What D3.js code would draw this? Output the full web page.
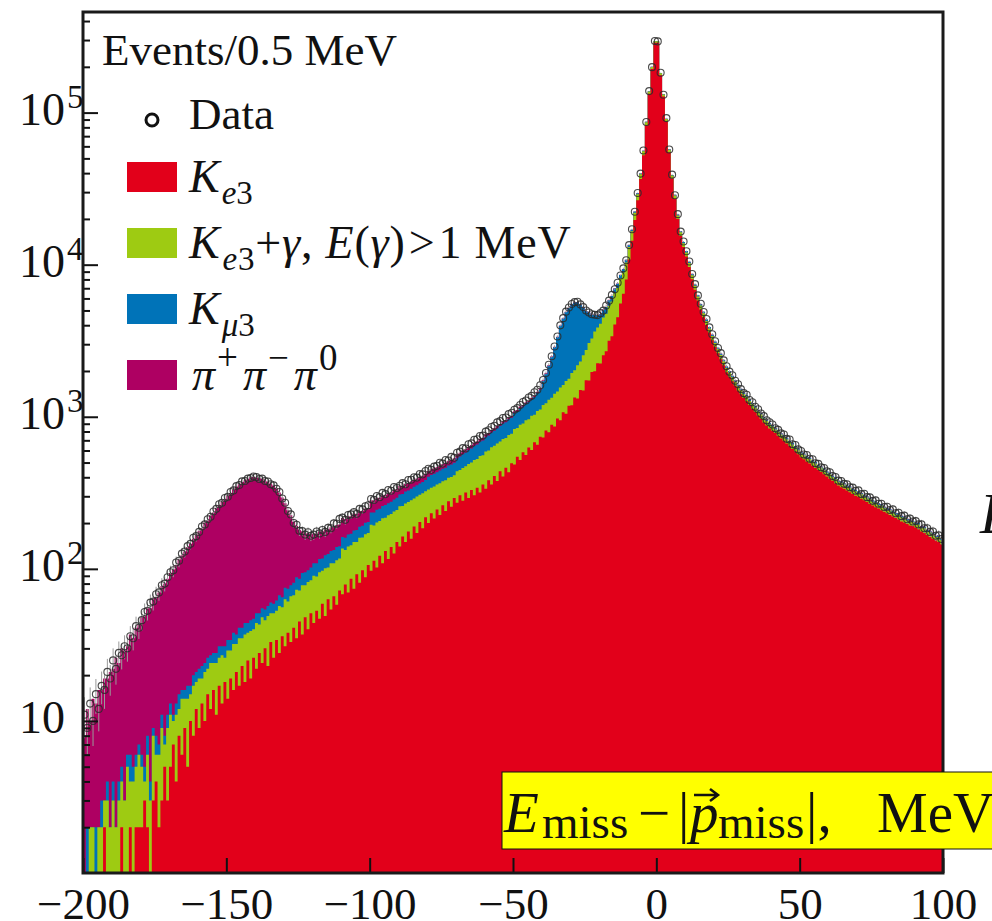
<!DOCTYPE html>
<html>
<head>
<meta charset="utf-8">
<script src="https://cdnjs.cloudflare.com/ajax/libs/d3/7.8.5/d3.min.js"></script>
<style>
  html, body { margin: 0; padding: 0; background: #fff; }
  svg { display: block; }
  text { font-family: "Liberation Serif", "DejaVu Serif", serif; fill: #111; }
</style>
</head>
<body>
<div id="chart"></div>
<script>
// E_miss - |p_miss| histogram, 1 MeV bins from -200 to 100, counts per 0.5 MeV
const binStart = -200;
const binWidth = 1;

const ke3 = [
  0, 1, 0, 1, 1, 0, 1, 2, 0, 1,
  1, 1, 0, 2, 1, 1, 2, 1, 2, 2,
  2, 3, 2, 1, 3, 4, 2, 3, 5, 3,
  5, 7, 4, 8, 6, 9, 5, 10, 8, 12,
  9, 13, 10, 15, 12, 16, 11, 17, 13, 18,
  14, 19, 16, 21, 17, 23, 18, 25, 19, 26,
  22, 28, 24, 30, 23, 33, 26, 34, 28, 36,
  31, 38, 33, 41, 35, 45, 37, 48, 40, 51,
  44, 53, 47, 59, 49, 63, 54, 66, 58, 72,
  68, 79, 70, 86, 74, 92, 81, 98, 88, 106,
  97, 113, 102, 122, 109, 131, 116, 139, 126, 150,
  140, 163, 150, 176, 158, 190, 172, 203, 185, 218,
  200, 232, 214, 246, 226, 262, 240, 278, 256, 292,
  272, 305, 280, 318, 292, 330, 305, 342, 318, 358,
  336, 382, 358, 408, 378, 438, 405, 462, 432, 494,
  486, 545, 520, 585, 560, 628, 605, 680, 655, 738,
  730, 812, 790, 885, 862, 975, 950, 1070, 1045, 1180,
  1190, 1340, 1320, 1500, 1490, 1740, 1730, 1970, 1990, 2250,
  2240, 2540, 2700, 3160, 3380, 4040, 4520, 5560, 6440, 7980,
  10800, 14360, 19670, 26560, 36550, 52530, 82680, 132930, 193880, 287780,
  288280, 176370, 127430, 87710, 54870, 36820, 27060, 19990, 15410, 13050,
  11340, 9650, 8020, 6830, 5810, 5070, 4510, 4010, 3580, 3190,
  2871, 2620, 2389, 2179, 1964, 1832, 1710, 1597, 1491, 1406,
  1327, 1267, 1197, 1129, 1079, 1018, 972, 918, 877, 837,
  808, 781, 746, 720, 696, 666, 643, 614, 593, 567,
  541, 525, 508, 492, 477, 460, 446, 433, 419, 405,
  391, 379, 365, 353, 344, 336, 327, 319, 311, 302,
  298, 289, 283, 275, 267, 261, 254, 249, 243, 237,
  232, 226, 221, 216, 211, 205, 202, 197, 193, 191,
  187, 182, 176, 172, 167, 162, 158, 154, 150, 145
];

const ke3Gamma = [
  1, 0, 2, 1, 0, 2, 1, 1, 3, 1,
  2, 1, 3, 2, 2, 4, 2, 3, 3, 4,
  3, 1, 4, 2, 5, 2, 4, 6, 2, 6,
  6, 3, 7, 4, 8, 5, 9, 5, 9, 6,
  10, 6, 11, 7, 12, 8, 13, 9, 14, 8,
  15, 10, 16, 11, 18, 12, 19, 13, 20, 14,
  22, 15, 24, 16, 26, 18, 25, 19, 29, 20,
  32, 23, 33, 26, 38, 27, 41, 30, 42, 33,
  46, 36, 48, 38, 52, 39, 55, 43, 56, 45,
  68, 54, 70, 57, 76, 58, 79, 63, 81, 66,
  98, 80, 100, 84, 106, 86, 109, 90, 112, 94,
  118, 96, 119, 99, 124, 100, 127, 104, 129, 106,
  133, 110, 134, 112, 140, 114, 143, 119, 145, 121,
  166, 142, 181, 155, 198, 170, 215, 186, 234, 200,
  254, 218, 272, 236, 290, 250, 310, 264, 328, 280,
  345, 298, 366, 318, 388, 336, 410, 352, 436, 380,
  465, 415, 505, 450, 556, 490, 610, 545, 672, 600,
  750, 680, 860, 810, 1050, 1010, 1330, 1300, 1640, 1620,
  1850, 1950, 2050, 2200, 2350, 2450, 2500, 2550, 2450, 2350,
  2250, 2200, 2300, 2500, 2800, 3200, 3800, 4500, 5500, 6500,
  6000, 5000, 4000, 3000, 2200, 1700, 1400, 1100, 900, 780,
  700, 600, 500, 430, 370, 320, 290, 260, 230, 205,
  188, 171, 156, 142, 128, 120, 112, 104, 97, 92,
  87, 92, 74, 79, 70, 63, 68, 57, 61, 52,
  56, 48, 53, 44, 47, 45, 38, 44, 36, 40,
  33, 38, 30, 35, 29, 33, 26, 30, 29, 24,
  28, 23, 26, 21, 24, 23, 19, 23, 18, 22,
  17, 21, 16, 19, 20, 15, 18, 14, 18, 15,
  13, 17, 14, 12, 16, 13, 15, 11, 14, 12,
  10, 14, 11, 13, 9, 12, 11, 8, 12, 9
];

const kmu3 = [
  0, 1, 0, 0, 1, 0, 1, 0, 1, 0,
  1, 0, 1, 1, 0, 1, 2, 1, 1, 1,
  1, 1, 2, 1, 1, 2, 1, 2, 1, 2,
  2, 1, 2, 3, 2, 2, 3, 2, 3, 3,
  3, 4, 3, 4, 3, 4, 4, 5, 4, 5,
  5, 5, 6, 5, 6, 6, 7, 6, 7, 7,
  7, 8, 7, 8, 8, 9, 8, 9, 10, 9,
  12, 13, 12, 14, 15, 14, 16, 17, 16, 18,
  19, 20, 21, 20, 22, 23, 22, 24, 25, 24,
  26, 27, 28, 27, 29, 30, 29, 31, 32, 31,
  40, 42, 43, 42, 44, 46, 45, 47, 48, 49,
  50, 52, 53, 52, 54, 56, 55, 57, 58, 60,
  70, 72, 74, 74, 77, 79, 79, 82, 84, 86,
  95, 100, 105, 109, 114, 119, 124, 130, 135, 140,
  147, 153, 159, 166, 173, 180, 187, 194, 202, 210,
  230, 240, 255, 265, 275, 285, 295, 315, 345, 390,
  524, 686, 874, 1138, 1445, 1874, 2402, 2808, 3159, 3414,
  3543, 3627, 3488, 3134, 2697, 2191, 1772, 1392, 1057, 757,
  620, 560, 520, 500, 490, 480, 470, 460, 450, 440,
  430, 420, 410, 420, 430, 450, 500, 550, 600, 700,
  700, 620, 560, 480, 420, 370, 330, 300, 280, 260,
  250, 215, 180, 150, 128, 110, 98, 88, 78, 70,
  66, 54, 55, 44, 46, 38, 39, 33, 34, 29,
  31, 27, 28, 22, 27, 20, 23, 20, 19, 18,
  19, 16, 17, 15, 14, 16, 12, 14, 13, 11,
  13, 10, 12, 11, 9, 11, 10, 8, 10, 9,
  9, 8, 9, 6, 8, 7, 8, 6, 7, 6,
  7, 5, 6, 6, 5, 7, 4, 6, 5, 4,
  6, 4, 5, 5, 4, 5, 3, 5, 4, 3,
  4, 5, 3, 4, 4, 3, 4, 2, 4, 3
];

const pi3 = [
  7, 10, 8, 12, 11, 14, 13, 16, 15, 19,
  18, 24, 20, 25, 26, 25, 31, 30, 35, 36,
  42, 44, 47, 51, 55, 57, 63, 66, 72, 75,
  81, 88, 93, 100, 107, 114, 122, 129, 138, 145,
  156, 161, 178, 182, 198, 207, 223, 232, 245, 256,
  269, 281, 295, 311, 319, 332, 338, 344, 354, 355,
  348, 343, 336, 326, 317, 303, 294, 277, 251, 229,
  195, 169, 147, 123, 104, 95, 83, 75, 74, 67,
  62, 61, 60, 59, 58, 57, 57, 56, 55, 55,
  54, 53, 53, 52, 51, 50, 50, 49, 48, 48,
  47, 47, 46, 45, 45, 44, 44, 43, 43, 42,
  42, 41, 41, 40, 40, 39, 39, 38, 38, 38,
  37, 37, 36, 36, 36, 35, 35, 35, 34, 34,
  33, 33, 33, 32, 32, 32, 31, 31, 31, 30,
  30, 30, 29, 29, 29, 28, 28, 28, 27, 27,
  27, 26, 26, 26, 25, 25, 25, 24, 24, 24,
  24, 24, 23, 23, 23, 23, 22, 22, 22, 22,
  22, 22, 21, 21, 21, 21, 20, 20, 20, 20,
  20, 20, 19, 19, 19, 19, 18, 18, 18, 18,
  18, 17, 17, 17, 16, 16, 16, 16, 16, 16,
  16, 15, 14, 12, 11, 10, 9, 8, 7, 7,
  7, 6, 6, 5, 5, 5, 4, 4, 4, 4,
  4, 3, 3, 3, 3, 3, 3, 2, 2, 2,
  2, 2, 2, 2, 2, 2, 2, 2, 2, 2,
  2, 2, 2, 2, 2, 1, 1, 1, 1, 1,
  1, 1, 1, 1, 1, 1, 1, 1, 1, 1,
  1, 1, 1, 1, 1, 1, 1, 1, 1, 1,
  1, 1, 1, 1, 1, 1, 1, 1, 1, 1,
  1, 1, 1, 1, 1, 1, 1, 1, 1, 1,
  1, 1, 1, 1, 1, 1, 1, 1, 1, 1
];

const dataCounts = [
  11, 9, 13, 10, 15, 12, 17, 16, 21, 19,
  25, 22, 28, 27, 31, 30, 36, 35, 42, 41,
  46, 52, 53, 60, 61, 68, 70, 78, 80, 88,
  95, 98, 110, 113, 126, 130, 141, 146, 160, 164,
  175, 190, 196, 212, 220, 238, 248, 266, 272, 292,
  298, 320, 328, 350, 356, 376, 378, 392, 396, 405,
  401, 390, 392, 378, 375, 360, 354, 336, 320, 290,
  272, 240, 228, 200, 195, 178, 177, 168, 174, 165,
  168, 176, 171, 180, 175, 186, 185, 199, 198, 213,
  217, 210, 226, 228, 236, 230, 248, 246, 258, 262,
  288, 284, 301, 296, 316, 310, 330, 326, 345, 340,
  352, 366, 360, 384, 385, 400, 398, 420, 418, 440,
  455, 448, 470, 476, 498, 492, 520, 516, 545, 538,
  580, 590, 622, 618, 660, 668, 706, 712, 748, 752,
  798, 815, 856, 872, 918, 936, 982, 990, 1040, 1062,
  1112, 1140, 1196, 1250, 1280, 1340, 1372, 1450, 1505, 1610,
  1745, 1940, 2200, 2500, 2895, 3370, 3990, 4450, 4910, 5230,
  5510, 5670, 5700, 5480, 5260, 5000, 4850, 4720, 4690, 4660,
  4800, 4990, 5390, 5800, 6330, 6900, 7610, 8490, 9460, 10690,
  13450, 17100, 22300, 29600, 39700, 56400, 86800, 138500, 199000, 296000,
  294000, 183000, 131000, 92000, 57200, 39100, 28600, 21500, 16500, 14200,
  12250, 10500, 8680, 7450, 6280, 5530, 4880, 4390, 3870, 3490,
  3140, 2830, 2620, 2350, 2150, 1980, 1875, 1725, 1635, 1520,
  1430, 1395, 1290, 1245, 1165, 1120, 1050, 1010, 948, 920,
  890, 840, 820, 778, 765, 716, 708, 660, 652, 610,
  595, 565, 560, 530, 525, 495, 490, 465, 460, 438,
  432, 408, 402, 380, 378, 362, 360, 344, 342, 326,
  328, 310, 312, 296, 295, 280, 282, 268, 268, 255,
  256, 244, 246, 232, 234, 222, 224, 212, 214, 205,
  206, 196, 196, 185, 185, 175, 176, 165, 166, 157
];

const xTicks = [-200, -150, -100, -50, 0, 50, 100];
const yMajorTicks = [10, 100, 1000, 10000, 100000];
const yExponents = [1, 2, 3, 4, 5];

const layers = [
  { key: 'ke3', color: '#e2001a' },
  { key: 'ke3Gamma', color: '#9ecb12' },
  { key: 'kmu3', color: '#0073b8' },
  { key: 'pi3', color: '#ae0062' }
];

const width = 992;
const height = 921;
const plot = { left: 83, right: 943, top: 12, bottom: 873 };

const svg = d3.select('#chart').append('svg')
  .attr('width', width)
  .attr('height', height);

const x = d3.scaleLinear().domain([-200, 100]).range([plot.left, plot.right]);
const y = d3.scaleLog().domain([1, 4.587e5]).range([plot.bottom, plot.top]).clamp(true);

const rows = ke3.map((v, i) => ({
  lo: binStart + i * binWidth,
  ke3: v,
  ke3Gamma: ke3Gamma[i],
  kmu3: kmu3[i],
  pi3: pi3[i]
}));
// closing edge for the step curve
rows.push(Object.assign({}, rows[rows.length - 1], { lo: binStart + ke3.length * binWidth }));

const stack = d3.stack().keys(layers.map(l => l.key));
const series = stack(rows);

svg.append('clipPath').attr('id', 'plotClip')
  .append('rect')
  .attr('x', plot.left).attr('y', plot.top)
  .attr('width', plot.right - plot.left).attr('height', plot.bottom - plot.top);

const plotG = svg.append('g').attr('clip-path', 'url(#plotClip)');

// each layer filled from the bottom up to its cumulative top, drawn top layer first
const area = d3.area()
  .curve(d3.curveStepAfter)
  .x(d => x(d.data.lo))
  .y0(plot.bottom)
  .y1(d => y(d[1]));

plotG.selectAll('path.layer')
  .data(series.slice().reverse())
  .enter()
  .append('path')
  .attr('class', 'layer')
  .attr('d', area)
  .attr('fill', d => layers.find(l => l.key === d.key).color)
  .attr('stroke', 'none');

// data points with statistical error bars
const points = dataCounts.map((v, i) => ({ c: binStart + (i + 0.5) * binWidth, v: v }));

plotG.append('g')
  .selectAll('line')
  .data(points)
  .enter()
  .append('line')
  .attr('x1', d => x(d.c))
  .attr('x2', d => x(d.c))
  .attr('y1', d => y(Math.max(d.v - Math.sqrt(d.v), 0.5)))
  .attr('y2', d => y(d.v + Math.sqrt(d.v)))
  .attr('stroke', '#9a9a9a')
  .attr('stroke-width', 1);

plotG.append('g')
  .selectAll('circle')
  .data(points)
  .enter()
  .append('circle')
  .attr('cx', d => x(d.c))
  .attr('cy', d => y(d.v))
  .attr('r', 3.5)
  .attr('fill', 'none')
  .attr('stroke', '#2a2a2a')
  .attr('stroke-opacity', 0.85)
  .attr('stroke-width', 1.1);

// x axis
svg.append('g')
  .attr('transform', `translate(0,${plot.bottom})`)
  .call(d3.axisBottom(x).tickValues(xTicks).tickSizeInner(-15).tickSizeOuter(0).tickPadding(14))
  .call(g => g.select('.domain').remove())
  .call(g => g.selectAll('.tick line').attr('stroke', '#111').attr('stroke-width', 2))
  .call(g => g.selectAll('.tick text')
    .attr('font-size', 45)
    .attr('font-family', '"Liberation Serif", serif')
    .attr('fill', '#111'));

// y axis: minor ticks
const minorTicks = [];
for (let e = 0; e <= 5; e++) {
  for (let m = 2; m <= 9; m++) {
    const v = m * Math.pow(10, e);
    if (v < 4.587e5) minorTicks.push(v);
  }
}
svg.append('g')
  .attr('transform', `translate(${plot.left},0)`)
  .call(d3.axisLeft(y).tickValues(minorTicks).tickSizeInner(-7).tickSizeOuter(0).tickFormat(''))
  .call(g => g.select('.domain').remove())
  .call(g => g.selectAll('.tick line').attr('stroke', '#111').attr('stroke-width', 2));

svg.append('g')
  .attr('transform', `translate(${plot.left},0)`)
  .call(d3.axisLeft(y).tickValues(yMajorTicks).tickSizeInner(-15).tickSizeOuter(0).tickFormat(''))
  .call(g => g.select('.domain').remove())
  .call(g => g.selectAll('.tick line').attr('stroke', '#111').attr('stroke-width', 2));

const yLabels = svg.append('g');
yMajorTicks.forEach((v, i) => {
  const t = yLabels.append('text')
    .attr('x', 19)
    .attr('y', y(v) + 12)
    .attr('font-size', 46);
  t.append('tspan').text('10');
  if (yExponents[i] > 1) {
    t.append('tspan').attr('font-size', 33).attr('dx', 2).attr('dy', -17).text(yExponents[i]);
  }
});

// legend
const legend = svg.append('g');
legend.append('text').attr('x', 102).attr('y', 65).attr('font-size', 45).text('Events/0.5 MeV');

legend.append('circle').attr('cx', 152).attr('cy', 120).attr('r', 6)
  .attr('fill', 'none').attr('stroke', '#111').attr('stroke-width', 3);
legend.append('text').attr('x', 189).attr('y', 129).attr('font-size', 45).text('Data');

const swatchY = [162, 228, 294, 360];
layers.forEach((l, i) => {
  legend.append('rect')
    .attr('x', 127).attr('y', swatchY[i])
    .attr('width', 50).attr('height', 30)
    .attr('fill', l.color);
});

function kaon(sel, sub) {
  sel.append('tspan').attr('font-style', 'italic').text('K');
  sel.append('tspan').attr('font-size', 33).attr('dx', 2).attr('dy', 12).attr('font-style', 'italic').text(sub[0]);
  sel.append('tspan').attr('font-size', 33).text(sub[1]);
}

const t1 = legend.append('text').attr('x', 189).attr('y', 192).attr('font-size', 46);
kaon(t1, ['e', '3']);

const t2 = legend.append('text').attr('x', 189).attr('y', 258).attr('font-size', 46)
  .attr('letter-spacing', 0.8);
kaon(t2, ['e', '3']);
t2.append('tspan').attr('dy', -12).text('+');
t2.append('tspan').attr('font-style', 'italic').text('γ');
t2.append('tspan').text(', ');
t2.append('tspan').attr('font-style', 'italic').text('E');
t2.append('tspan').text('(');
t2.append('tspan').attr('font-style', 'italic').text('γ');
t2.append('tspan').text(')');
t2.append('tspan').attr('dx', 3).text('>');
t2.append('tspan').attr('dx', 3).text('1 MeV');

const t3 = legend.append('text').attr('x', 189).attr('y', 324).attr('font-size', 46);
kaon(t3, ['μ', '3']);

const t4 = legend.append('text').attr('x', 192).attr('y', 390).attr('font-size', 46);
['+', '−', '0'].forEach((s, i) => {
  t4.append('tspan').attr('font-style', 'italic').attr('dx', i === 0 ? 0 : 5).attr('dy', i === 0 ? 0 : 20).text('π');
  t4.append('tspan').attr('font-size', 37).attr('dx', 2).attr('dy', -20).text(s);
});

// frame
svg.append('rect')
  .attr('x', plot.left).attr('y', plot.top)
  .attr('width', plot.right - plot.left).attr('height', plot.bottom - plot.top)
  .attr('fill', 'none').attr('stroke', '#1a1a1a').attr('stroke-width', 3);

// x title box
const box = svg.append('g');
box.append('rect')
  .attr('x', 502).attr('y', 772).attr('width', 520).attr('height', 77)
  .attr('fill', '#ffff00').attr('stroke', '#111').attr('stroke-width', 1);

const xt = box.append('text').attr('y', 832).attr('font-size', 57);
xt.append('tspan').attr('x', 504).attr('font-style', 'italic').text('E');
xt.append('tspan').attr('x', 542).attr('dy', 6).attr('font-size', 47).text('miss');
xt.append('tspan').attr('x', 638).attr('dy', -6).text('−');
xt.append('tspan').attr('x', 678).text('|');
xt.append('tspan').attr('x', 690).attr('font-style', 'italic').text('p');
xt.append('tspan').attr('x', 718).attr('dy', 6).attr('font-size', 47).text('miss');
xt.append('tspan').attr('x', 806).attr('dy', -6).text('|,');
xt.append('tspan').attr('x', 877).text('MeV');

// vector arrow over p
box.append('path')
  .attr('d', 'M694,795 L717,795 M710,789 L718,795 L710,801')
  .attr('fill', 'none').attr('stroke', '#111').attr('stroke-width', 2.5);

// clipped letter at the right border of the picture
svg.append('text').attr('x', 980).attr('y', 533).attr('font-size', 58)
  .attr('font-style', 'italic').text('E');
</script>
</body>
</html>
